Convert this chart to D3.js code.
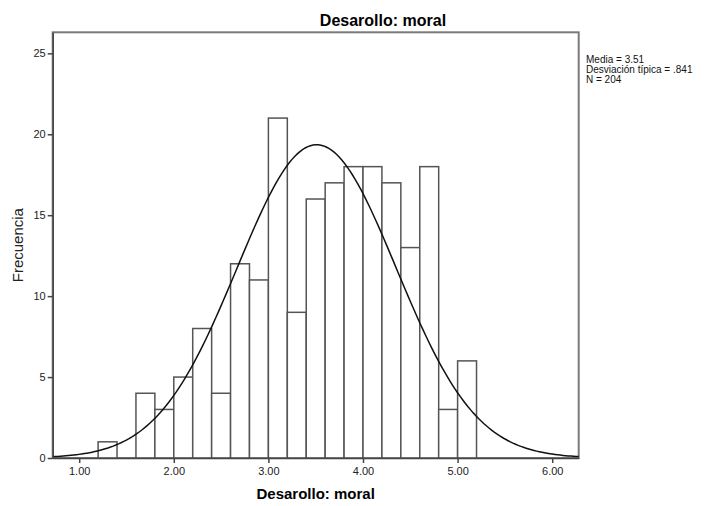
<!DOCTYPE html>
<html>
<head>
<meta charset="utf-8">
<script src="https://cdn.jsdelivr.net/npm/d3@7"></script>
<style>
  body { margin: 0; background: #fff; }
  svg { display: block; font-family: "Liberation Sans", Arial, sans-serif; }
  .axis path, .axis line { stroke: #444; stroke-width: 1.5; }
  .axis text { fill: #222; font-size: 11px; }
</style>
</head>
<body>
<div id="chart"></div>
<script>
// histogram bins (lower edge) and frequencies
const binStarts = [1.2, 1.4, 1.6, 1.8, 2.0, 2.2, 2.4, 2.6, 2.8, 3.0, 3.2, 3.4, 3.6, 3.8, 4.0, 4.2, 4.4, 4.6, 4.8, 5.0];
const counts = [1, 0, 4, 3, 5, 8, 4, 12, 11, 21, 9, 16, 17, 18, 18, 17, 13, 18, 3, 6];
const binWidth = 0.2;

const xTicks = [1, 2, 3, 4, 5, 6];
const yTicks = [0, 5, 10, 15, 20, 25];

const mean = 3.51, sd = 0.841, n = 204;
const statLines = ['Media = 3.51', 'Desviación típica = .841', 'N = 204'];

const W = 706, H = 506;
const plot = { left: 52.7, right: 578.7, top: 32.3, bottom: 458 };

const svg = d3.select('#chart').append('svg')
  .attr('width', W)
  .attr('height', H);

const x = d3.scaleLinear().domain([0.72, 6.28]).range([plot.left, plot.right]);
const y = d3.scaleLinear().domain([0, 26.3]).range([plot.bottom, plot.top]);

// frame
svg.append('rect')
  .attr('x', plot.left).attr('y', plot.top)
  .attr('width', plot.right - plot.left)
  .attr('height', plot.bottom - plot.top)
  .attr('fill', 'none')
  .attr('stroke', '#7a7a7a')
  .attr('stroke-width', 2);

const bins = binStarts.map((b, i) => ({ x0: b, x1: b + binWidth, count: counts[i] }));

svg.append('g')
  .selectAll('rect')
  .data(bins.filter((d) => d.count > 0))
  .join('rect')
  .attr('x', (d) => x(d.x0))
  .attr('y', (d) => y(d.count))
  .attr('width', (d) => x(d.x1) - x(d.x0))
  .attr('height', (d) => y(0) - y(d.count))
  .attr('fill', '#fff')
  .attr('stroke', '#555')
  .attr('stroke-width', 1.5);

// fitted normal curve from the stats shown in the legend
const dens = (v) => n * binWidth / (sd * Math.sqrt(2 * Math.PI)) * Math.exp(-0.5 * ((v - mean) / sd) ** 2);
const curveXs = d3.range(0, 201).map((i) => 0.72 + i * (6.28 - 0.72) / 200);

svg.append('path')
  .datum(curveXs)
  .attr('fill', 'none')
  .attr('stroke', '#111')
  .attr('stroke-width', 1.5)
  .attr('d', d3.line().x((d) => x(d)).y((d) => y(dens(d))));

// axes
svg.append('g')
  .attr('class', 'axis')
  .attr('transform', `translate(0,${plot.bottom})`)
  .call(d3.axisBottom(x).tickValues(xTicks).tickFormat(d3.format('.2f')).tickSizeInner(5).tickSizeOuter(0).tickPadding(4));

svg.append('g')
  .attr('class', 'axis')
  .attr('transform', `translate(${plot.left},0)`)
  .call(d3.axisLeft(y).tickValues(yTicks).tickSizeInner(5).tickSizeOuter(0).tickPadding(2));

// titles
svg.append('text')
  .attr('x', 383).attr('y', 26)
  .attr('text-anchor', 'middle')
  .attr('font-size', '16px')
  .attr('font-weight', 'bold')
  .text('Desarollo: moral');

svg.append('text')
  .attr('x', (plot.left + plot.right) / 2).attr('y', 499)
  .attr('text-anchor', 'middle')
  .attr('font-size', '15px')
  .attr('font-weight', 'bold')
  .text('Desarollo: moral');

svg.append('text')
  .attr('transform', `translate(23,${(plot.top + plot.bottom) / 2}) rotate(-90)`)
  .attr('text-anchor', 'middle')
  .attr('font-size', '15px')
  .attr('fill', '#222')
  .text('Frecuencia');

svg.append('g')
  .selectAll('text')
  .data(statLines)
  .join('text')
  .attr('x', 586)
  .attr('y', (d, i) => 63 + i * 10)
  .attr('font-size', '10px')
  .attr('fill', '#111')
  .text((d) => d);
</script>
</body>
</html>
